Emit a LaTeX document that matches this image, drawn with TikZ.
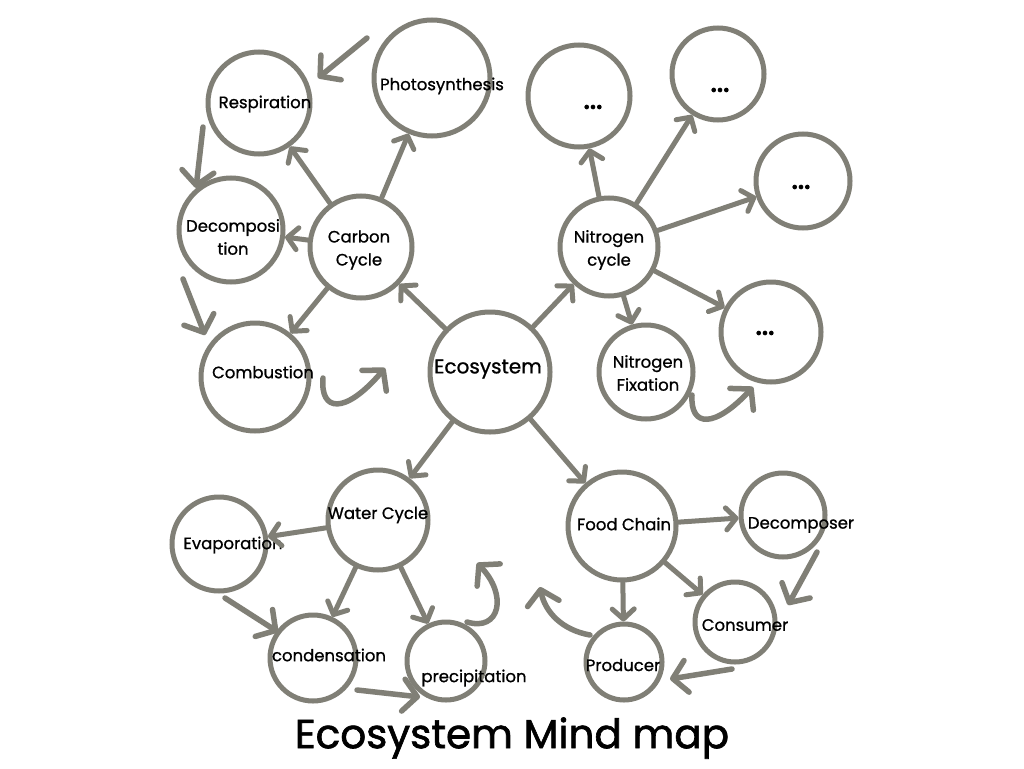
\documentclass[tikz,border=0pt]{standalone}
\usepackage{fontspec}
\setmainfont{Poppins}[FakeBold=0.9]
\usetikzlibrary{arrows.meta}
\definecolor{ink}{RGB}{128,127,118}
\begin{document}
\begin{tikzpicture}[x=1pt,y=-1pt,
  bub/.style={circle,draw=ink,line width=5pt,inner sep=0pt,minimum size=#1},
  lbl/.style={font=\fontsize{16.5}{23}\selectfont,align=center,inner sep=0pt},
  dots/.style={font=\fontsize{30}{30}\selectfont\addfontfeatures{FakeBold=3},inner sep=0pt},
  conn/.style={draw=ink,line width=5pt,line cap=round,line join=round,
    -{Straight Barb[length=10pt,width=22pt,line cap=round,line join=round]}},
  cyc/.style={draw=ink,line width=5.5pt,line cap=round,line join=round,
    -{Straight Barb[length=14pt,width=32pt,line cap=round,line join=round]}}]
\useasboundingbox (0,0) rectangle (1024,768);
\fill[white] (0,0) rectangle (1024,768);
% circles
\node[bub=102pt] (resp) at (259,103) {};
\node[bub=116pt] (photo) at (432,78) {};
\node[bub=104pt] (decomp) at (231,230) {};
\node[bub=102pt] (carbon) at (361,247) {};
\node[bub=108pt] (comb) at (255,377) {};
\node[bub=120pt] (eco) at (490,372) {};
\node[bub=98pt] (nitro) at (609,247) {};
\node[bub=102pt] (na) at (579,96) {};
\node[bub=92pt] (nb) at (718,74) {};
\node[bub=94pt] (nc) at (803,181) {};
\node[bub=100pt] (nd) at (771,332) {};
\node[bub=94pt] (fix) at (646,372) {};
\node[bub=100pt] (water) at (378,520) {};
\node[bub=94pt] (evap) at (219,544) {};
\node[bub=86pt] (cond) at (313,658) {};
\node[bub=78pt] (prec) at (446,661) {};
\node[bub=108pt] (food) at (622,526) {};
\node[bub=84pt] (dcomp) at (783,515) {};
\node[bub=80pt] (cons) at (735,622) {};
\node[bub=76pt] (prod) at (624,662) {};
% labels
\node[lbl] (respT) at (265,104) {Respiration};
\node[lbl] (photoT) at (442,86) {Photosynthesis};
\node[lbl] (carbonT) at (359,250) {Carbon\\Cycle};
\node[lbl] (decompT) at (233,237) {Decomposi\\tion};
\node[lbl] (combT) at (263,372) {Combustion};
\node[lbl,font=\fontsize{20}{23}\selectfont] (ecoT) at (488,369) {Ecosystem};
\node[lbl] (nitroT) at (609,250) {Nitrogen\\cycle};
\node[dots] (naT) at (593,107) {...};
\node[dots] (nbT) at (720,90) {...};
\node[dots] (ncT) at (801,187) {...};
\node[dots] (ndT) at (765,333) {...};
\node[lbl] (fixT) at (648,373) {Nitrogen\\Fixation};
\node[lbl] (waterT) at (378,515) {Water Cycle};
\node[lbl] (evapT) at (233,545) {Evaporation};
\node[lbl] (condT) at (329,655) {condensation};
\node[lbl] (precT) at (474,678) {precipitation};
\node[lbl] (foodT) at (624,524) {Food Chain};
\node[lbl] (dcompT) at (801,525) {Decomposer};
\node[lbl] (consT) at (745,625) {Consumer};
\node[lbl] (prodT) at (623,665) {Producer};
\node[inner sep=0pt,font=\fontsize{40.5}{44}\selectfont\addfontfeatures{FakeBold=1.6}] (title) at (512,738) {Ecosystem Mind map};
% connectors
\draw[conn] (eco) -- (carbon);
\draw[conn] (eco) -- (nitro);
\draw[conn] (eco) -- (water);
\draw[conn] (eco) -- (food);
\draw[conn] (carbon) -- (resp);
\draw[conn] (carbon) -- (photo);
\draw[conn] (carbon) -- (decomp);
\draw[conn] (carbon) -- (comb);
\draw[conn] (nitro) -- (na);
\draw[conn] (nitro) -- (nb);
\draw[conn] (nitro) -- (nc);
\draw[conn] (nitro) -- (nd);
\draw[conn] (nitro) -- (fix);
\draw[conn] (water) -- (evap);
\draw[conn] (water) -- (cond);
\draw[conn] (water) -- (prec);
\draw[conn] (food) -- (dcomp);
\draw[conn] (food) -- (cons);
\draw[conn] (food) -- (prod);
% cycle arrows
\coordinate (c1a) at (367,38); \coordinate (c1b) at (318,78);
\coordinate (c2a) at (203,127); \coordinate (c2b) at (196,188);
\coordinate (c3a) at (183,279); \coordinate (c3b) at (205,335);
\coordinate (c4a) at (323,378); \coordinate (c4b) at (385,368);
\coordinate (c5a) at (692,395); \coordinate (c5b) at (753,387);
\coordinate (c6a) at (225,598); \coordinate (c6b) at (278,632);
\coordinate (c7a) at (357,690); \coordinate (c7b) at (420,697);
\coordinate (c8a) at (467,622); \coordinate (c8b) at (477,563);
\coordinate (c9a) at (590,635); \coordinate (c9b) at (540,587);
\coordinate (c10a) at (817,552); \coordinate (c10b) at (788,605);
\coordinate (c11a) at (732,669); \coordinate (c11b) at (670,679);
\draw[cyc] (c1a) -- (c1b);
\draw[cyc] (c2a) -- (c2b);
\draw[cyc] (c3a) -- (c3b);
\draw[cyc] (c4a) .. controls (320,412) and (345,415) .. (c4b);
\draw[cyc] (c5a) .. controls (690,428) and (715,428) .. (c5b);
\draw[cyc] (c6a) -- (c6b);
\draw[cyc] (c7a) -- (c7b);
\draw[cyc] (c8a) .. controls (500,632) and (508,595) .. (c8b);
\draw[cyc] (c9a) .. controls (562,630) and (545,612) .. (c9b);
\draw[cyc] (c10a) -- (c10b);
\draw[cyc] (c11a) -- (c11b);
\end{tikzpicture}
\end{document}
